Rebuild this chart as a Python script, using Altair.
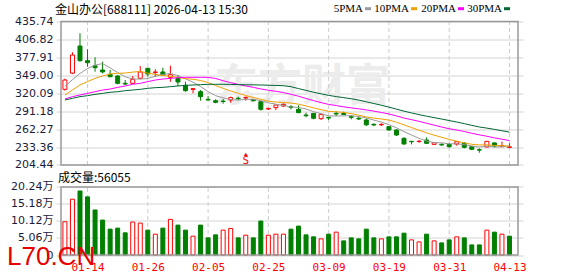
import altair as alt
import pandas as pd

# ---------------- data ----------------
dates = ["01-09", "01-12", "01-13", "01-14", "01-15", "01-16", "01-19", "01-20", "01-21", "01-22", "01-23",
         "01-26", "01-27", "01-28", "01-29", "01-30", "02-02", "02-03", "02-04", "02-05", "02-06",
         "02-09", "02-10", "02-11", "02-12", "02-13", "02-24", "02-25", "02-26", "02-27",
         "03-02", "03-03", "03-04", "03-05", "03-06", "03-09", "03-10", "03-11", "03-12", "03-13",
         "03-16", "03-17", "03-18", "03-19", "03-20", "03-23", "03-24", "03-25", "03-26", "03-27",
         "03-30", "03-31", "04-01", "04-02", "04-03", "04-07", "04-08", "04-09", "04-10", "04-13"]

opens = [326.5, 352.5, 396.2, 372.6, 364.5, 357.6, 350.6, 347.9, 336.1, 336.1,
         344.2, 360.3, 353.3, 354.4, 345.8, 344.2, 332.9, 326.4, 322.6, 310.3,
         308.1, 307.4, 309.2, 311.9, 312.4, 309.7, 306.5, 294.7, 296.9, 299.5,
         298.5, 294.2, 285.0, 287.7, 279.1, 281.3, 287.7, 287.7, 282.3, 279.7,
         277.0, 270.0, 269.2, 266.2, 260.9, 247.4, 242.6, 242.2, 244.7, 237.7,
         237.7, 237.7, 238.3, 239.4, 234.0, 229.0, 233.5, 240.0, 234.0, 232.8]
highs = [343.6, 386.1, 416.7, 390.9, 378.0, 371.0, 357.6, 349.5, 341.4, 347.9,
         364.0, 361.0, 358.7, 361.3, 364.5, 349.5, 338.7, 328.5, 325.3, 315.6,
         310.3, 310.8, 314.6, 314.6, 314.6, 310.5, 308.1, 296.3, 301.6, 303.8,
         301.1, 300.6, 288.8, 288.2, 286.6, 282.3, 290.9, 290.4, 285.0, 283.4,
         279.7, 271.6, 271.6, 267.3, 261.9, 249.0, 243.1, 244.7, 249.0, 240.9,
         239.4, 239.4, 242.0, 241.5, 234.5, 231.3, 243.1, 240.9, 242.0, 239.4]
lows = [324.2, 351.0, 371.0, 363.0, 354.8, 352.2, 345.8, 334.5, 332.9, 336.0,
        342.6, 346.8, 346.8, 347.9, 338.7, 331.8, 322.6, 320.0, 308.1, 308.7,
        303.9, 303.3, 304.9, 308.7, 308.1, 307.0, 292.0, 293.1, 293.1, 298.0,
        294.2, 288.2, 281.3, 278.0, 277.0, 277.0, 283.4, 285.0, 278.0, 277.0,
        267.3, 267.3, 267.3, 259.8, 251.2, 237.2, 237.7, 240.4, 238.3, 237.2,
        235.6, 232.4, 235.6, 231.3, 228.6, 224.3, 232.9, 233.0, 233.5, 231.6]
closes = [341.4, 381.7, 372.6, 369.3, 361.3, 354.4, 346.8, 336.1, 335.0, 342.6,
          354.4, 351.1, 354.4, 349.5, 350.0, 338.2, 324.2, 327.4, 314.5, 309.2,
          305.5, 306.8, 313.0, 311.3, 313.5, 308.1, 294.2, 295.8, 301.1, 302.2,
          297.4, 288.8, 283.9, 279.7, 286.1, 280.2, 286.6, 285.8, 281.3, 278.6,
          269.2, 268.9, 270.0, 260.9, 252.8, 238.3, 242.0, 242.7, 239.4, 240.4,
          236.7, 234.0, 242.0, 232.9, 229.7, 228.4, 242.6, 235.0, 235.6, 233.8]
# volume, in 万 (10k) shares
volumes = [9.9, 16.6, 19.05, 17.3, 13.4, 10.4, 7.7, 8.0, 6.6, 9.8,
           9.5, 7.4, 6.2, 8.0, 10.6, 8.9, 7.4, 5.6, 8.9, 5.1,
           6.0, 7.4, 7.9, 5.1, 5.9, 5.1, 10.1, 5.9, 6.2, 6.2,
           7.7, 8.6, 6.0, 5.4, 4.8, 6.2, 6.8, 4.2, 5.1, 4.8,
           7.7, 5.1, 4.8, 5.4, 5.4, 6.5, 4.5, 3.9, 6.2, 4.2,
           3.6, 4.5, 5.4, 5.1, 3.0, 3.0, 7.4, 6.8, 6.2, 5.6055]
ma5 = [331.0, 342.0, 352.0, 360.0, 365.3, 367.9, 360.9, 353.6, 346.7, 343.0,
       343.0, 343.8, 347.5, 350.4, 351.9, 348.6, 343.3, 337.9, 330.9, 322.7,
       316.2, 312.7, 309.8, 309.2, 310.0, 310.5, 308.0, 304.6, 302.5, 300.3,
       298.1, 297.1, 294.7, 290.4, 287.2, 283.7, 283.3, 283.7, 284.0, 282.5,
       280.3, 276.8, 273.6, 269.5, 264.4, 258.2, 252.8, 247.3, 243.0, 240.6,
       240.2, 238.6, 238.5, 237.2, 235.1, 233.4, 235.1, 233.3, 234.0, 234.8]
ma10 = [317.3, 325.3, 333.4, 338.8, 344.1, 347.9, 351.1, 352.2, 352.7, 354.1,
        355.4, 352.4, 350.5, 348.6, 347.4, 345.8, 343.6, 342.7, 340.6, 337.3,
        332.4, 328.0, 323.8, 320.0, 316.4, 313.4, 310.4, 307.2, 305.9, 305.2,
        304.3, 302.5, 299.6, 296.5, 293.7, 290.9, 290.2, 289.2, 287.2, 284.8,
        282.0, 280.0, 278.6, 276.8, 273.4, 269.2, 264.8, 260.5, 256.3, 252.5,
        249.2, 245.7, 242.9, 240.1, 237.8, 236.8, 236.9, 236.0, 235.6, 234.9]
ma20 = [310.8, 314.6, 317.3, 319.9, 322.6, 325.3, 326.9, 329.6, 331.8, 334.5,
        336.1, 338.8, 341.4, 343.0, 344.1, 345.2, 345.7, 345.8, 345.8, 345.7,
        343.9, 340.2, 337.2, 334.3, 331.9, 329.6, 327.0, 324.9, 323.2, 321.2,
        318.4, 315.3, 311.7, 308.2, 305.0, 302.1, 300.3, 298.2, 296.5, 295.0,
        293.2, 291.3, 289.1, 286.6, 283.6, 280.1, 277.5, 274.8, 271.7, 268.7,
        265.6, 262.9, 260.8, 258.4, 255.6, 253.0, 250.8, 248.2, 246.0, 243.8]
ma30 = [309.2, 311.9, 314.6, 316.2, 318.3, 319.9, 321.6, 322.6, 324.2, 325.3,
        326.4, 328.0, 329.1, 329.6, 330.7, 331.8, 332.8, 333.4, 333.9, 334.5,
        334.5, 334.5, 334.3, 334.0, 333.8, 333.6, 333.4, 333.0, 332.7, 332.2,
        330.7, 327.6, 324.7, 321.7, 319.2, 316.7, 314.7, 313.0, 311.2, 309.1,
        306.3, 303.5, 300.7, 297.7, 294.5, 291.2, 288.4, 285.6, 283.1, 280.8,
        278.5, 276.1, 273.7, 271.1, 268.3, 265.7, 263.9, 261.9, 259.7, 257.4]

price_ticks = [204.44, 233.36, 262.27, 291.18, 320.09, 349.00, 377.91, 406.82, 435.74]
vol_ticks = [0, 5.06, 10.12, 15.18, 20.24]
x_tick_dates = ["01-14", "01-26", "02-05", "02-25", "03-09", "03-19", "03-31", "04-13"]
ma_names = ["ma5", "ma10", "ma20", "ma30"]
ma_labels = ["5PMA", "10PMA", "20PMA", "30PMA"]
sig_date = ["02-12"]
sig_text = ["S"]
sig_price = [210.9]
sig_arrow_price = [221.4]

title_text = "金山办公[688111] 2026-04-13 15:30"
vol_title = "成交量:56055"

# ---------------- tables ----------------
n = len(dates)
idx = list(range(n))
prev_close = [opens[0]] + closes[:-1]
df = pd.DataFrame({
    "idx": idx, "date": dates, "open": opens, "high": highs, "low": lows,
    "close": closes, "vol": volumes,
    "ma5": ma5, "ma10": ma10, "ma20": ma20, "ma30": ma30,
})
df["dir"] = ["up" if c >= o else "down" for o, c in zip(opens, closes)]
df["vdir"] = ["up" if c >= p else "down" for p, c in zip(prev_close, closes)]

tick_idx = [dates.index(d) for d in x_tick_dates]
X_LO, X_HI = -0.52, 60.13
P_LO, P_HI = 59.37, 435.74
V_HI = 69.5

frame_p = pd.DataFrame({"x0": [X_LO], "x1": [X_HI], "lo": [price_ticks[0]], "hi": [price_ticks[-1]]})
frame_v = pd.DataFrame({"x0": [X_LO], "x1": [X_HI], "lo": [vol_ticks[0]], "hi": [vol_ticks[-1]]})
vg_p = pd.DataFrame({"idx": tick_idx, "lo": price_ticks[0], "hi": price_ticks[-1]})
vg_v = pd.DataFrame({"idx": tick_idx, "lo": vol_ticks[0], "hi": vol_ticks[-1]})
sig_df = pd.DataFrame({"idx": [dates.index(d) for d in sig_date], "t": sig_text,
                       "price": sig_price, "arrow": sig_arrow_price})
one = pd.DataFrame({"a": [0]})

# ---------------- scales / axes ----------------
RED, GREEN = "#ff0000", "#008000"
label_expr = "[" + ",".join(f"'{d}'" for d in dates) + "][datum.value]"
x_scale = alt.Scale(domain=[X_LO, X_HI], nice=False, zero=False)
x_axis = alt.Axis(values=tick_idx, labelExpr=label_expr, grid=False, domain=False, ticks=False,
                  tickSize=0, labelPadding=6, labelColor=RED, labelFont="DejaVu Sans Mono",
                  labelFontSize=11, title=None, labelFlush=False, labelOverlap=False, orient="bottom")
p_scale = alt.Scale(domain=[P_LO, P_HI], nice=False, zero=False)
p_axis = alt.Axis(values=price_ticks, orient="left", domain=False, ticks=False, tickSize=0,
                  labelPadding=3, grid=True, gridColor="#d4d4d4", gridWidth=1, format=".2f",
                  labelFont="DejaVu Sans", labelFontSize=11, labelColor="#1a1a3a",
                  title=None, labelOverlap=False)
v_scale = alt.Scale(domain=[0, V_HI], nice=False, zero=True)
v_axis = alt.Axis(values=vol_ticks, orient="left", domain=False, ticks=False, tickSize=0,
                  labelPadding=3, grid=True, gridColor="#d4d4d4", gridWidth=1,
                  labelExpr="datum.value == 0 ? '0' : format(datum.value, '.2f') + '万'",
                  labelFont="DejaVu Sans, 'Noto Sans CJK SC'", labelFontSize=11,
                  labelColor="#1a1a3a", title=None, labelOverlap=False)

dir_stroke = alt.Scale(domain=["up", "down"], range=[RED, GREEN])
dir_fill = alt.Scale(domain=["up", "down"], range=["#ffffff", GREEN])


def X(f):
    return alt.X(f"{f}:Q", scale=x_scale, axis=x_axis)


def PY(f):
    return alt.Y(f"{f}:Q", scale=p_scale, axis=p_axis)


def VY(f):
    return alt.Y(f"{f}:Q", scale=v_scale, axis=v_axis)


# ---------------- price panel ----------------
p_frame = alt.Chart(frame_p).mark_rect(fillOpacity=0, stroke="#999999", strokeWidth=1.5).encode(
    x=X("x0"), x2="x1", y=PY("lo"), y2="hi")
p_vgrid = alt.Chart(vg_p).mark_rule(color="#cccccc", strokeDash=[4, 3]).encode(
    x=X("idx"), y=PY("lo"), y2="hi")
wicks = alt.Chart(df).mark_rule(strokeWidth=1).encode(
    x=X("idx"), y=PY("low"), y2="high",
    stroke=alt.Stroke("dir:N", scale=dir_stroke, legend=None))
bodies = alt.Chart(df).mark_bar(size=4, strokeWidth=1).encode(
    x=X("idx"), y=PY("open"), y2="close",
    stroke=alt.Stroke("dir:N", scale=dir_stroke, legend=None),
    fill=alt.Fill("dir:N", scale=dir_fill, legend=None))
mas = alt.Chart(df).transform_fold(ma_names, as_=["ma", "value"]).mark_line(strokeWidth=1).encode(
    x=X("idx"), y=PY("value"),
    color=alt.Color("ma:N", scale=alt.Scale(domain=ma_names,
                                            range=["#999999", "#f0a000", "#ff00ff", "#006633"]),
                    legend=None))
sig_t = alt.Chart(sig_df).mark_text(color=RED, font="DejaVu Sans Mono", fontSize=11,
                                     baseline="middle").encode(x=X("idx"), y=PY("price"), text="t:N")
sig_a = alt.Chart(sig_df).mark_point(shape="triangle-up", filled=True, color=RED, size=14,
                                      opacity=1).encode(x=X("idx"), y=PY("arrow"))
price_group = alt.layer(p_vgrid, wicks, bodies, mas, sig_t, sig_a, p_frame)

# ---------------- volume panel ----------------
v_frame = alt.Chart(frame_v).mark_rect(fillOpacity=0, stroke="#999999", strokeWidth=1.5).encode(
    x=X("x0"), x2="x1", y=VY("lo"), y2="hi")
v_vgrid = alt.Chart(vg_v).mark_rule(color="#cccccc", strokeDash=[4, 3]).encode(
    x=X("idx"), y=VY("lo"), y2="hi")
vbars = alt.Chart(df).mark_bar(size=4, strokeWidth=1).encode(
    x=X("idx"), y=VY("vol"),
    stroke=alt.Stroke("vdir:N", scale=dir_stroke, legend=None),
    fill=alt.Fill("vdir:N", scale=dir_fill, legend=None))
vol_group = alt.layer(v_vgrid, vbars, v_frame)

# ---------------- decorations ----------------
watermark = alt.Chart(one).mark_text(text="东方财富", font="Noto Sans CJK SC", fontSize=44,
                                     fontWeight="bold", color="#ececec", align="center",
                                     baseline="middle").encode(x=alt.value(246), y=alt.value(66))
title = alt.Chart(one).mark_text(text=title_text, font="Noto Sans CJK SC", fontSize=12,
                                 color="#000000", align="left", baseline="middle").encode(
    x=alt.value(-1), y=alt.value(-11.5))
vol_t = alt.Chart(one).mark_text(text=vol_title, font="Noto Sans CJK SC", fontSize=12,
                                 color="#000000", align="left", baseline="middle").encode(
    x=alt.value(2), y=alt.value(156))
leg_colors = ["#999999", "#f0a000", "#ff00ff", "#006633"]
leg_right = [307, 353, 400, 446]
legend_layers = []
for lab, col, xr in zip(ma_labels, leg_colors, leg_right):
    legend_layers.append(alt.Chart(one).mark_text(text=lab, font="Liberation Serif", fontSize=11,
                                                  color="#000000", align="right",
                                                  baseline="middle").encode(
        x=alt.value(xr), y=alt.value(-12.5)))
    legend_layers.append(alt.Chart(one).mark_rule(color=col, strokeWidth=3).encode(
        x=alt.value(xr + 2), x2=alt.value(xr + 8), y=alt.value(-12.8)))
site = alt.Chart(one).mark_text(text="L70.CN", font="Liberation Sans", fontSize=26,
                                color="#e60000", align="left", baseline="alphabetic").encode(
    x=alt.value(-49), y=alt.value(243.5))

chart = alt.layer(watermark, price_group, vol_group, title, vol_t, *legend_layers, site).resolve_scale(
    y="independent"
).properties(
    width=467, height=233.5,
    autosize=alt.AutoSizeParams(type="none"),
    padding={"left": 56, "top": 21.5, "right": 55, "bottom": 21},
    background="#ffffff",
).configure_view(strokeWidth=0)

chart.save("out.html", embed_options={"renderer": "svg", "actions": False})
